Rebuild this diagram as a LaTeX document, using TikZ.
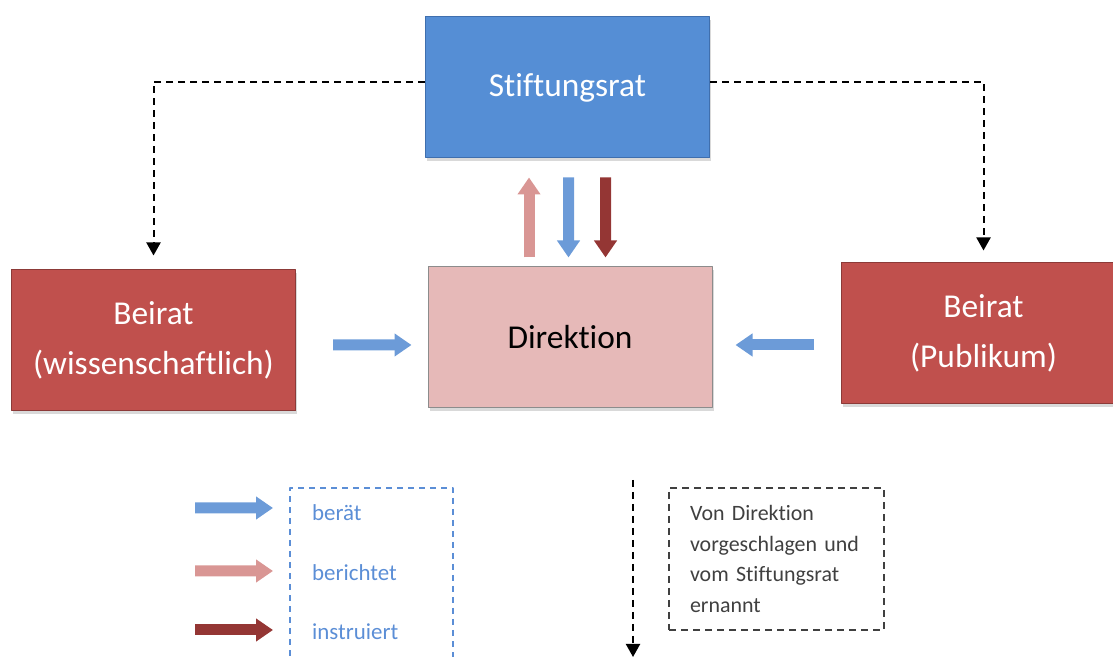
\documentclass[tikz,border=0pt]{standalone}
\usepackage{fontspec}
\setmainfont[Ligatures=NoCommon]{Carlito}
\usetikzlibrary{arrows.meta,shadows}
\definecolor{ratblue}{HTML}{558ED5}
\definecolor{ratborder}{HTML}{3F6FAE}
\definecolor{beiratred}{HTML}{C0504D}
\definecolor{beiratborder}{HTML}{8C3A38}
\definecolor{dirpink}{HTML}{E6B9B8}
\definecolor{dirborder}{HTML}{8C8C8C}
\definecolor{arrowblue}{HTML}{6C9BD8}
\definecolor{arrowpink}{HTML}{D99694}
\definecolor{arrowdark}{HTML}{943634}
\definecolor{legendblue}{HTML}{5B8ED6}
\definecolor{notegrey}{HTML}{404040}
\begin{document}
\begin{tikzpicture}[x=1bp,y=1bp,line join=bevel,
  box/.style={rectangle,inner sep=0pt,minimum width=284bp,minimum height=141bp,align=center,
    font=\fontsize{33.5}{50}\selectfont,line width=1bp,
    drop shadow={shadow xshift=1.5bp,shadow yshift=-3bp,opacity=0.3}},
  fat/.style={line width=11bp,-{Triangle[width=22bp,length=17bp]}},
  ernannt/.style={black,line width=2bp,dash pattern=on 7bp off 5bp,-{Triangle[width=14bp,length=13bp]}},
  legendtext/.style={anchor=west,inner sep=0pt,text=legendblue,font=\fontsize{23}{27}\selectfont},
]
\useasboundingbox (0,0) rectangle (1113,657);
\clip (0,0) rectangle (1113,657);
%%
\node (node_rat) at (567.5bp,569.5bp) [box,fill=ratblue,draw=ratborder,text=white] {Stiftungsrat};
  \node (node_dir) at (570bp,319.5bp) [box,fill=dirpink,draw=dirborder,text=black] {Direktion};
  \node (node_wiss) at (153.5bp,316.5bp) [box,fill=beiratred,draw=beiratborder,text=white] {Beirat\\(wissenschaftlich)};
  \node (node_pub) at (983.5bp,323.5bp) [box,fill=beiratred,draw=beiratborder,text=white] {Beirat\\(Publikum)};
  \draw [ernannt] ([yshift=5.5bp]node_rat.west) -| ([yshift=14bp]node_wiss.north);
  \draw [ernannt] ([yshift=5.5bp]node_rat.east) -| ([yshift=12bp]node_pub.north);
  \draw [fat,arrowpink,shorten <=9bp,shorten >=19bp] ([xshift=-41bp]node_dir.north) -- ([xshift=-38.5bp]node_rat.south);
  \draw [fat,arrowblue,shorten <=19bp,shorten >=9bp] ([xshift=1bp]node_rat.south) -- ([xshift=-1.5bp]node_dir.north);
  \draw [fat,arrowdark,shorten <=19bp,shorten >=9bp] ([xshift=38bp]node_rat.south) -- ([xshift=35.5bp]node_dir.north);
  \draw [fat,arrowblue,shorten <=37bp,shorten >=16bp] ([yshift=-4.5bp]node_wiss.east) -- ([yshift=-7.5bp]node_dir.west);
  \draw [fat,arrowblue,shorten <=27bp,shorten >=23bp] ([yshift=-11.5bp]node_pub.west) -- ([yshift=-7.5bp]node_dir.west -| node_dir.east);
%% legend
\draw [legendblue,line width=1.3bp,dash pattern=on 6bp off 5bp] (290,-10) -- (290,169) -- (453,169) -- (453,-10);
  \node (lbl_beraet) at (312bp,144bp) [legendtext] {berät};
  \node (lbl_bericht) at (312bp,84bp) [legendtext] {berichtet};
  \node (lbl_instr) at (312bp,25bp) [legendtext] {instruiert};
  \coordinate (leg_1) at (195bp,149bp);
  \coordinate (leg_2) at (195bp,86bp);
  \coordinate (leg_3) at (195bp,27bp);
  \draw [fat,arrowblue,shorten >=39bp] (leg_1) -- ([yshift=5bp]lbl_beraet.west);
  \draw [fat,arrowpink,shorten >=39bp] (leg_2) -- ([yshift=2bp]lbl_bericht.west);
  \draw [fat,arrowdark,shorten >=39bp] (leg_3) -- ([yshift=2bp]lbl_instr.west);
%
\node (node_note) at (776.5bp,98bp) [draw=notegrey,line width=1.6bp,dash pattern=on 7bp off 5bp,
    minimum width=215bp,minimum height=142bp,text width=173bp,inner xsep=21bp,inner ysep=0pt,
    align=left,text=notegrey,font=\fontsize{22}{31}\selectfont] {Von Direktion\\vorgeschlagen und\\vom Stiftungsrat\\ernannt};
  \coordinate (note_top) at (633bp,177bp);
  \coordinate (note_bot) at (633bp,0bp);
  \draw [ernannt] (note_top) -- (note_bot);
%
\end{tikzpicture}
\end{document}
